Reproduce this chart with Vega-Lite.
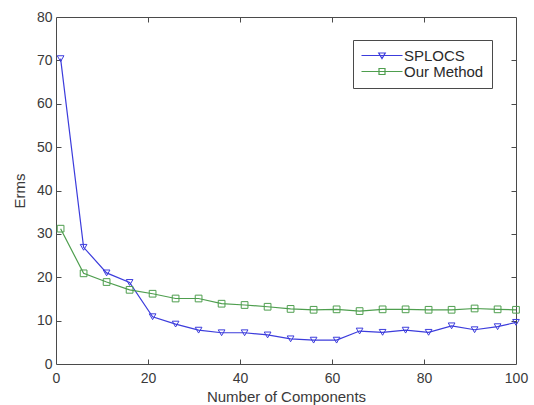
{
  "$schema": "https://vega.github.io/schema/vega-lite/v6.json",
  "width": 460,
  "height": 347,
  "autosize": "none",
  "padding": {"left": 56, "top": 17, "right": 18, "bottom": 41},
  "background": "white",
  "config": {
    "font": "Liberation Sans",
    "view": {"stroke": "#4a4a4a", "strokeWidth": 1},
    "axis": {
      "domain": false,
      "grid": false,
      "tickSize": 5,
      "tickColor": "#4a4a4a",
      "tickWidth": 1,
      "labelFont": "Liberation Sans",
      "labelFontSize": 14,
      "labelColor": "#3a3a3a",
      "titleFont": "Liberation Sans",
      "titleFontSize": 15,
      "titleFontWeight": "normal",
      "titleColor": "#3a3a3a"
    }
  },
  "data": {
    "values": [
      {"n": 1, "method": "SPLOCS", "erms": 70.4},
      {"n": 6, "method": "SPLOCS", "erms": 26.9},
      {"n": 11, "method": "SPLOCS", "erms": 21.0},
      {"n": 16, "method": "SPLOCS", "erms": 18.8},
      {"n": 21, "method": "SPLOCS", "erms": 10.9},
      {"n": 26, "method": "SPLOCS", "erms": 9.2},
      {"n": 31, "method": "SPLOCS", "erms": 7.8},
      {"n": 36, "method": "SPLOCS", "erms": 7.2},
      {"n": 41, "method": "SPLOCS", "erms": 7.2},
      {"n": 46, "method": "SPLOCS", "erms": 6.7},
      {"n": 51, "method": "SPLOCS", "erms": 5.8},
      {"n": 56, "method": "SPLOCS", "erms": 5.5},
      {"n": 61, "method": "SPLOCS", "erms": 5.5},
      {"n": 66, "method": "SPLOCS", "erms": 7.6},
      {"n": 71, "method": "SPLOCS", "erms": 7.3},
      {"n": 76, "method": "SPLOCS", "erms": 7.8},
      {"n": 81, "method": "SPLOCS", "erms": 7.3},
      {"n": 86, "method": "SPLOCS", "erms": 8.8},
      {"n": 91, "method": "SPLOCS", "erms": 7.9},
      {"n": 96, "method": "SPLOCS", "erms": 8.6},
      {"n": 100, "method": "SPLOCS", "erms": 9.6},
      {"n": 1, "method": "Our Method", "erms": 31.2},
      {"n": 6, "method": "Our Method", "erms": 20.9},
      {"n": 11, "method": "Our Method", "erms": 18.9},
      {"n": 16, "method": "Our Method", "erms": 17.1},
      {"n": 21, "method": "Our Method", "erms": 16.2},
      {"n": 26, "method": "Our Method", "erms": 15.1},
      {"n": 31, "method": "Our Method", "erms": 15.1},
      {"n": 36, "method": "Our Method", "erms": 13.9},
      {"n": 41, "method": "Our Method", "erms": 13.6},
      {"n": 46, "method": "Our Method", "erms": 13.2},
      {"n": 51, "method": "Our Method", "erms": 12.7},
      {"n": 56, "method": "Our Method", "erms": 12.5},
      {"n": 61, "method": "Our Method", "erms": 12.6},
      {"n": 66, "method": "Our Method", "erms": 12.2},
      {"n": 71, "method": "Our Method", "erms": 12.6},
      {"n": 76, "method": "Our Method", "erms": 12.6},
      {"n": 81, "method": "Our Method", "erms": 12.5},
      {"n": 86, "method": "Our Method", "erms": 12.5},
      {"n": 91, "method": "Our Method", "erms": 12.8},
      {"n": 96, "method": "Our Method", "erms": 12.6},
      {"n": 100, "method": "Our Method", "erms": 12.5}
    ]
  },
  "resolve": {"axis": {"x": "independent", "y": "independent"}},
  "layer": [
    {
      "mark": {"type": "line", "strokeWidth": 1.2},
      "encoding": {
        "x": {"field": "n", "type": "quantitative", "scale": {"domain": [0, 100], "nice": false, "zero": false},
              "axis": {"orient": "bottom", "title": "Number of Components", "values": [0, 20, 40, 60, 80, 100], "ticks": false, "labelPadding": 7, "titlePadding": 4, "labelFlush": false}},
        "y": {"field": "erms", "type": "quantitative", "scale": {"domain": [0, 80], "nice": false},
              "axis": {"orient": "left", "title": "Erms", "values": [0, 10, 20, 30, 40, 50, 60, 70, 80], "ticks": false, "labelPadding": 4, "titlePadding": 9, "labelFlush": false}},
        "color": {"field": "method", "type": "nominal",
                  "scale": {"domain": ["SPLOCS", "Our Method"], "range": ["#3c3cdc", "#4e9e4e"]},
                  "legend": {
                    "title": null,
                    "orient": "none",
                    "legendX": 297,
                    "legendY": 23,
                    "direction": "vertical",
                    "fillColor": "white",
                    "strokeColor": "#4a4a4a",
                    "padding": 8,
                    "symbolSize": 100,
                    "symbolOffset": 13.5,
                    "labelOffset": 14.5,
                    "rowPadding": 0,
                    "symbolStrokeWidth": 1.2,
                    "symbolOpacity": 1,
                    "symbolFillColor": "transparent",
                    "labelFont": "Liberation Sans",
                    "labelFontSize": 15,
                    "labelColor": "#2a2a2a"
                  }}
      }
    },
    {
      "mark": {"type": "point", "filled": false, "size": 45, "strokeWidth": 1, "opacity": 1},
      "encoding": {
        "x": {"field": "n", "type": "quantitative", "axis": null},
        "y": {"field": "erms", "type": "quantitative", "axis": null},
        "color": {"field": "method", "type": "nominal"},
        "shape": {"condition": {"test": "datum.method == 'SPLOCS'", "value": "triangle-down"}, "value": "square"}
      }
    },
    {
      "transform": [{"filter": "false"}],
      "mark": {"type": "point", "filled": false},
      "encoding": {
        "x": {"field": "n", "type": "quantitative", "axis": null},
        "y": {"field": "erms", "type": "quantitative", "axis": null},
        "color": {"field": "method", "type": "nominal"},
        "shape": {"field": "method", "type": "nominal",
                  "scale": {"domain": ["SPLOCS", "Our Method"], "range": ["M-4.1,0H4.1M-0.65,-0.5H0.65L0,0.6Z", "M-4.1,0H4.1M-0.6,-0.6H0.6V0.6H-0.6Z"]},
                  "legend": {"title": null}}
      }
    },
    {
      "mark": {"type": "point", "opacity": 0},
      "encoding": {
        "x": {"field": "n", "type": "quantitative",
              "axis": {"orient": "top", "offset": -347, "title": null, "labels": false, "values": [20, 40, 60, 80]}},
        "y": {"field": "erms", "type": "quantitative",
              "axis": {"orient": "right", "offset": -460, "title": null, "labels": false, "values": [10, 20, 30, 40, 50, 60, 70]}}
      }
    },
    {
      "mark": {"type": "point", "opacity": 0},
      "encoding": {
        "x": {"field": "n", "type": "quantitative",
              "axis": {"orient": "bottom", "offset": -347, "title": null, "labels": false, "values": [20, 40, 60, 80]}},
        "y": {"field": "erms", "type": "quantitative",
              "axis": {"orient": "left", "offset": -460, "title": null, "labels": false, "values": [10, 20, 30, 40, 50, 60, 70]}}
      }
    }
  ]
}
